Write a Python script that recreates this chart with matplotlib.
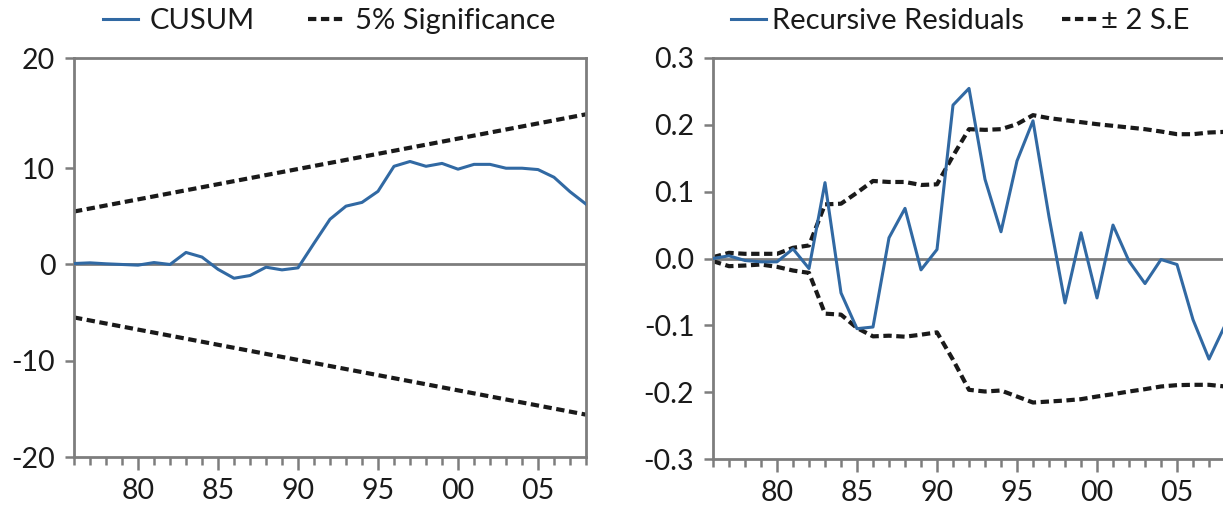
import matplotlib
matplotlib.use("Agg")
import matplotlib.pyplot as plt
from matplotlib.ticker import FixedLocator, MultipleLocator

plt.rcParams['font.family'] = ['Lato', 'DejaVu Sans']
plt.rcParams['axes.unicode_minus'] = False

# years 1976..2008
years = list(range(1976, 2009))

# CUSUM test
cusum = [0.1, 0.17, 0.07, 0.0, -0.07, 0.2, 0.0, 1.25, 0.77, -0.5, -1.43, -1.15,
         -0.28, -0.56, -0.35, 2.2, 4.7, 6.06, 6.45, 7.6, 10.2, 10.7, 10.2, 10.5,
         9.9, 10.4, 10.4, 10.0, 10.0, 9.86, 9.06, 7.56, 6.27]
sig_years = [1976, 2008]
sig_upper = [5.5, 15.6]
sig_lower = [-5.5, -15.6]

# recursive residuals
resid = [0.0, 0.004, -0.003, -0.005, -0.005, 0.0145, -0.015, 0.1135, -0.0515,
         -0.105, -0.1025, 0.031, 0.075, -0.017, 0.0135, 0.2295, 0.2545, 0.1185,
         0.04, 0.146, 0.206, 0.0625, -0.0665, 0.0385, -0.059, 0.05, -0.004,
         -0.0375, -0.0015, -0.009, -0.0915, -0.1505, -0.10]
se_upper = [0.002, 0.0085, 0.007, 0.007, 0.007, 0.016, 0.0195, 0.081, 0.082,
            0.0985, 0.116, 0.1145, 0.1145, 0.11, 0.111, 0.1535, 0.1935, 0.1925,
            0.1935, 0.201, 0.2145, 0.21, 0.207, 0.204, 0.201, 0.1985, 0.196,
            0.1935, 0.19, 0.186, 0.186, 0.1885, 0.1895]
se_lower = [-0.004, -0.0115, -0.0105, -0.009, -0.0125, -0.018, -0.0215, -0.0825,
            -0.084, -0.104, -0.1165, -0.1155, -0.117, -0.114, -0.1105, -0.1515,
            -0.1965, -0.199, -0.1975, -0.2065, -0.2155, -0.214, -0.2125, -0.2105,
            -0.2065, -0.203, -0.199, -0.1955, -0.1915, -0.1895, -0.189, -0.189,
            -0.1915]

major_years = [1980, 1985, 1990, 1995, 2000, 2005]
major_labels = ['80', '85', '90', '95', '00', '05']

blue = '#3169a3'
grey = '#7d7d7d'
ink = '#1a1a1a'
dash = (0, (2.0, 1.1))

W, H = 1223, 512
fig = plt.figure(figsize=(W / 100, H / 100), dpi=100)
ax1 = fig.add_axes([74 / W, (H - 457) / H, 512 / W, 399 / H])
ax2 = fig.add_axes([713 / W, (H - 459) / H, 512 / W, 401 / H])


def style(ax):
    for s in ax.spines.values():
        s.set_color(grey)
        s.set_linewidth(2.0)
    ax.set_xlim(1976, 2008)
    ax.xaxis.set_major_locator(FixedLocator(major_years))
    ax.set_xticklabels(major_labels)
    ax.xaxis.set_minor_locator(MultipleLocator(1))
    ax.tick_params(axis='x', which='major', length=9, width=1.8, color=grey,
                   labelsize=20.5, pad=6, labelcolor=ink)
    ax.tick_params(axis='x', which='minor', length=6, width=1.8, color=grey)
    ax.tick_params(axis='y', length=6.5, width=1.8, color=grey, labelsize=20.5,
                   pad=7, labelcolor=ink)
    ax.axhline(0, color=grey, lw=2.0, zorder=1)


def entry(handle, x_px, pad):
    # one legend entry, handle starting at x_px
    leg = fig.legend(handles=[handle], loc='center left',
                     bbox_to_anchor=(x_px / W, 1 - 21 / H), frameon=False,
                     fontsize=21, handlelength=1.2, handletextpad=pad,
                     borderpad=0, borderaxespad=0, labelcolor=ink)
    return leg


# left panel
l1, = ax1.plot(years, cusum, color=blue, lw=2.2, zorder=3, label='CUSUM')
l2, = ax1.plot(sig_years, sig_upper, color=ink, lw=3.0, ls=dash,
               zorder=2, label='5% Significance')
ax1.plot(sig_years, sig_lower, color=ink, lw=3.0, ls=dash, zorder=2)
style(ax1)
top = 21.45
ax1.set_ylim(-20, top)
ax1.set_yticks([-20, -10, 0, 10, top])
ax1.set_yticklabels(['-20', '-10', '0', '10', '20'])
entry(l1, 103, 0.41)
entry(l2, 308, 0.41)

# right panel
r1, = ax2.plot(years, resid, color=blue, lw=2.2, zorder=3,
               label='Recursive Residuals')
r2, = ax2.plot(years, se_upper, color=ink, lw=3.0, ls=dash, zorder=2,
               label='± 2 S.E')
ax2.plot(years, se_lower, color=ink, lw=3.0, ls=dash, zorder=2)
style(ax2)
ax2.set_ylim(-0.3, 0.3)
ax2.set_yticks([-0.3, -0.2, -0.1, 0.0, 0.1, 0.2, 0.3])
ax2.set_yticklabels(['-0.3', '-0.2', '-0.1', '0.0', '0.1', '0.2', '0.3'])
entry(r1, 731, 0.2)
entry(r2, 1062, 0.14)

fig.savefig('out.png', dpi=100)
